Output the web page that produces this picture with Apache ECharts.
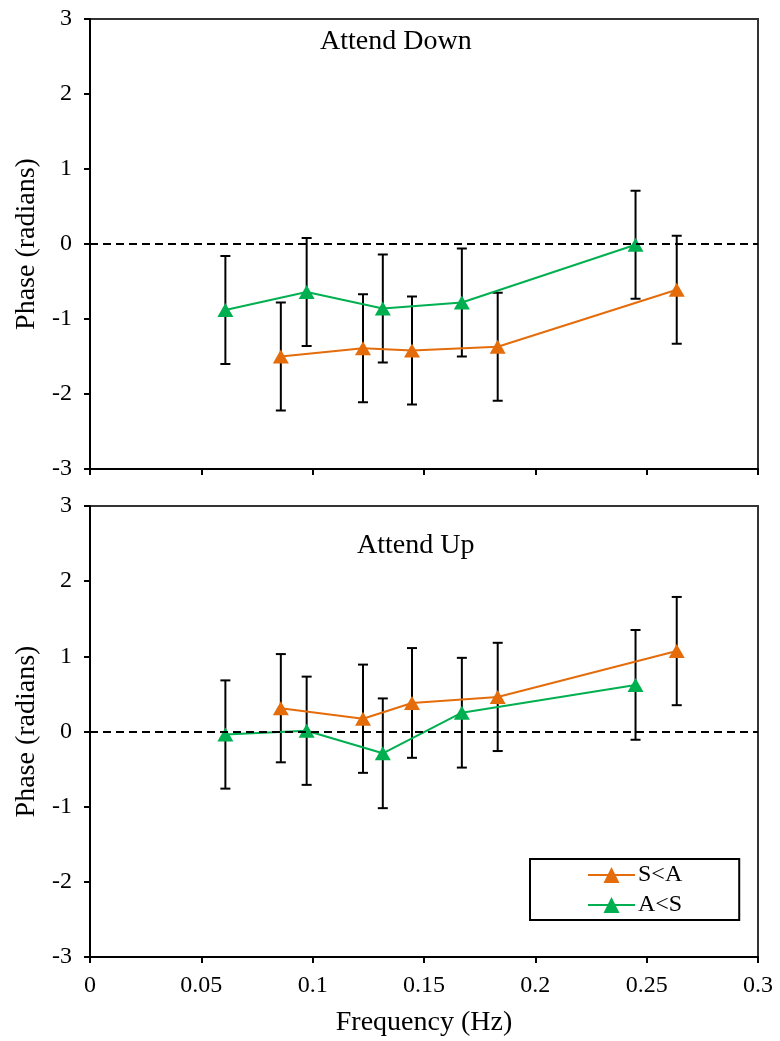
<!DOCTYPE html>
<html>
<head>
<meta charset="utf-8">
<script src="https://cdn.jsdelivr.net/npm/echarts@6/dist/echarts.min.js"></script>
<style>
html,body{margin:0;padding:0;background:#fff;}
#chart{width:780px;height:1041px;}
</style>
</head>
<body>
<div id="chart"></div>
<script>
// ---- Data ----
const panelTitles = ['Attend Down', 'Attend Up'];
const seriesNames = ['S<A', 'A<S'];
const xTicks = [0, 0.05, 0.1, 0.15, 0.2, 0.25, 0.3];
const yTicks = [-3, -2, -1, 0, 1, 2, 3];

// Frequencies (Hz)
const freqSA = [0.0857, 0.1226, 0.1446, 0.1831, 0.2635];
const freqAS = [0.0608, 0.0973, 0.1315, 0.1670, 0.2450];

// Attend Down panel
const downSA = [-1.50, -1.39, -1.42, -1.37, -0.61];
const downSAerr = [0.72, 0.72, 0.72, 0.72, 0.72];
const downAS = [-0.88, -0.64, -0.86, -0.78, -0.01];
const downASerr = [0.72, 0.72, 0.72, 0.72, 0.72];

// Attend Up panel
const upSA = [0.31, 0.17, 0.38, 0.46, 1.07];
const upSAerr = [0.72, 0.72, 0.73, 0.72, 0.72];
const upAS = [-0.04, 0.01, -0.29, 0.25, 0.62];
const upASerr = [0.72, 0.72, 0.73, 0.73, 0.73];

// ---- Styles ----
const ORANGE = '#E46C0A';
const GREEN = '#00B050';
const FONT = '"Liberation Serif", "DejaVu Serif", serif';

function pts(xs, ys) { return xs.map((x, i) => [x, ys[i]]); }
function errPts(xs, ys, es) { return xs.map((x, i) => [x, ys[i], es[i]]); }

function errorSeries(idx, data) {
  return {
    type: 'custom',
    xAxisIndex: idx, yAxisIndex: idx,
    z: 2,
    silent: true,
    data: data,
    renderItem: function (params, api) {
      const x = api.value(0), y = api.value(1), e = api.value(2);
      const t = api.coord([x, y + e]);
      const b = api.coord([x, y - e]);
      const hw = 5;
      const st = { stroke: '#000', lineWidth: 2 };
      return {
        type: 'group',
        children: [
          { type: 'line', shape: { x1: t[0], y1: t[1], x2: b[0], y2: b[1] }, style: st },
          { type: 'line', shape: { x1: t[0] - hw, y1: t[1], x2: t[0] + hw, y2: t[1] }, style: st },
          { type: 'line', shape: { x1: b[0] - hw, y1: b[1], x2: b[0] + hw, y2: b[1] }, style: st }
        ]
      };
    }
  };
}

function lineSeries(idx, name, color, data, withZero) {
  const s = {
    type: 'line',
    name: name,
    xAxisIndex: idx, yAxisIndex: idx,
    z: 3,
    data: data,
    symbol: 'triangle',
    symbolSize: [16, 14],
    itemStyle: { color: color },
    lineStyle: { color: color, width: 2 },
    animation: false
  };
  if (withZero) {
    s.markLine = {
      silent: true,
      symbol: 'none',
      label: { show: false },
      lineStyle: { color: '#000', type: [8, 5], width: 2 },
      data: [{ yAxis: 0 }],
      animation: false
    };
  }
  return s;
}

const axisLineStyle = { color: '#000', width: 2 };

function xAxisCfg(idx, showLabel) {
  return {
    type: 'value', gridIndex: idx,
    min: 0, max: 0.3, interval: 0.05,
    axisLine: { show: true, onZero: false, lineStyle: axisLineStyle },
    axisTick: { show: true, inside: false, length: 6, lineStyle: axisLineStyle },
    splitLine: { show: false },
    axisLabel: {
      show: showLabel, margin: 17, color: '#000',
      fontFamily: FONT, fontSize: 24,
      formatter: v => String(parseFloat(v.toFixed(2)))
    },
    name: showLabel ? 'Frequency (Hz)' : '',
    nameLocation: 'middle', nameGap: 52,
    nameTextStyle: { fontFamily: FONT, fontSize: 28, color: '#000' }
  };
}

function yAxisCfg(idx) {
  return {
    type: 'value', gridIndex: idx,
    min: -3, max: 3, interval: 1,
    axisLine: { show: true, onZero: false, lineStyle: axisLineStyle },
    axisTick: { show: true, inside: false, length: 6, lineStyle: axisLineStyle },
    splitLine: { show: false },
    axisLabel: { margin: 18, color: '#000', fontFamily: FONT, fontSize: 24 },
    name: 'Phase (radians)',
    nameLocation: 'middle', nameGap: 44,
    nameTextStyle: { fontFamily: FONT, fontSize: 28, color: '#000' }
  };
}

const chart = echarts.init(document.getElementById('chart'), null, { renderer: 'canvas' });

const option = {
  animation: false,
  backgroundColor: '#fff',
  grid: [
    { left: 90, top: 19, width: 668, height: 450, show: true, borderColor: '#333', borderWidth: 2, backgroundColor: 'transparent' },
    { left: 90, top: 506, width: 668, height: 451, show: true, borderColor: '#333', borderWidth: 2, backgroundColor: 'transparent' }
  ],
  xAxis: [xAxisCfg(0, false), xAxisCfg(1, true)],
  yAxis: [yAxisCfg(0), yAxisCfg(1)],
  legend: {
    orient: 'vertical',
    left: 530, top: 859,
    padding: [4, 57, 3, 57],
    itemGap: 6,
    itemWidth: 47, itemHeight: 20,
    borderColor: '#000', borderWidth: 2,
    backgroundColor: '#fff',
    data: seriesNames,
    textStyle: { fontFamily: FONT, fontSize: 24, color: '#000', lineHeight: 24, padding: [0, 0, 0, -2] }
  },
  graphic: [
    { type: 'text', left: 320, top: 28, style: { text: panelTitles[0], fontFamily: FONT, fontSize: 28, fill: '#000' } },
    { type: 'text', left: 357, top: 532, style: { text: panelTitles[1], fontFamily: FONT, fontSize: 28, fill: '#000' } }
  ],
  series: [
    errorSeries(0, errPts(freqSA, downSA, downSAerr)),
    errorSeries(0, errPts(freqAS, downAS, downASerr)),
    lineSeries(0, seriesNames[0], ORANGE, pts(freqSA, downSA), true),
    lineSeries(0, seriesNames[1], GREEN, pts(freqAS, downAS), false),
    errorSeries(1, errPts(freqSA, upSA, upSAerr)),
    errorSeries(1, errPts(freqAS, upAS, upASerr)),
    lineSeries(1, seriesNames[0], ORANGE, pts(freqSA, upSA), true),
    lineSeries(1, seriesNames[1], GREEN, pts(freqAS, upAS), false)
  ]
};
chart.setOption(option);
</script>
</body>
</html>
